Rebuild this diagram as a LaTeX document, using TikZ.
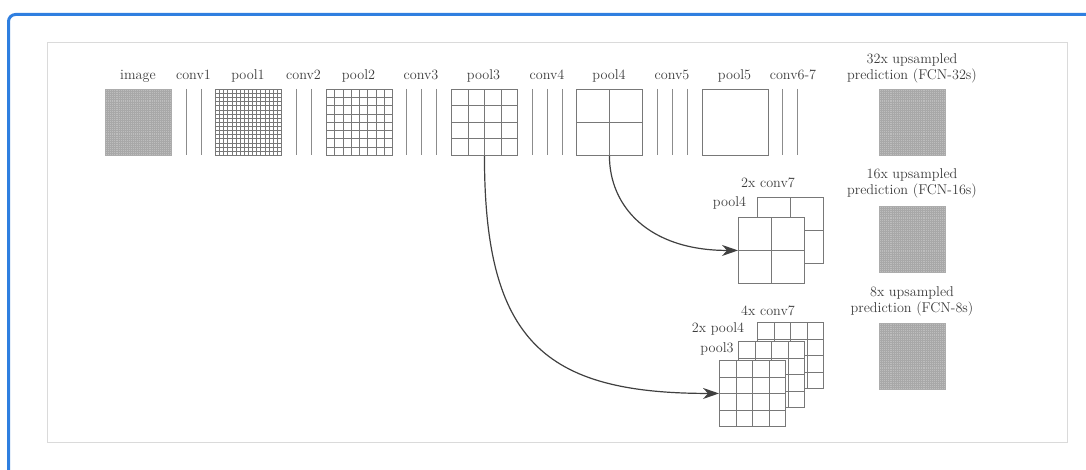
\documentclass[tikz,border=0pt]{standalone}
\usetikzlibrary{calc,arrows.meta}
\definecolor{blueb}{HTML}{2F7FE0}
\definecolor{frameg}{HTML}{DADADA}
\definecolor{boxg}{HTML}{787878}
\definecolor{txt}{HTML}{3C3C3C}
\definecolor{arr}{HTML}{404040}
\begin{document}
\begin{tikzpicture}[x=1pt,y=-1pt,
  lbl/.style={text=txt,font=\fontsize{14.2}{17}\selectfont,inner sep=0,anchor=base},
  gbox/.style={draw=boxg,line width=0.9,fill=white,minimum size=66,inner sep=0,anchor=north west},
  gridn/.style n args={3}{path picture={%
     \pgfmathtruncatemacro\nn{#1-1}%
     \foreach \i in {1,...,\nn}{%
       \draw[#2,line width=#3]
         ($(path picture bounding box.north west)!{\i/#1}!(path picture bounding box.north east)$) --
         ($(path picture bounding box.south west)!{\i/#1}!(path picture bounding box.south east)$);
       \draw[#2,line width=#3]
         ($(path picture bounding box.north west)!{\i/#1}!(path picture bounding box.south west)$) --
         ($(path picture bounding box.north east)!{\i/#1}!(path picture bounding box.south east)$);
     }}},
  fine/.style={gbox,fill=gray!52,draw=gray!65,gridn={32}{gray!68}{0.6}},
  coarse/.style={gbox,gridn={#1}{boxg}{0.9}},
  conv/.style={draw=boxg!85,line width=0.9},
  link/.style={draw=arr,line width=1.2,-{Stealth[length=16,width=11,inset=5]}}
]
\useasboundingbox (0,0) rectangle (1086,470);
\begin{scope}
  \clip (0,0) rectangle (1086,470);
  \draw[blueb,line width=3,rounded corners=7] (8.5,14.5) rectangle (1110,500);
\end{scope}
\draw[frameg,line width=1] (47,43) rectangle (1067,442);

% top row
\node[fine] (image) at (105,89) {};
\node[coarse=16] (pool1) at (215,89) {};
\node[coarse=8] (pool2) at (326,89) {};
\node[coarse=4] (pool3) at (451,89) {};
\node[coarse=2] (pool4) at (576,89) {};
\node[gbox] (pool5) at (702,89) {};
\node[fine] (out32) at (879,89) {};

\foreach \x in {186,201,296,311,406,421,436,532,547,562,657,672,687,782,797}
  \draw[conv] (\x,89) -- (\x,155);

\node[lbl] (limage) at (138,80) {image};
\node[lbl] (lconv1) at (193.5,80) {conv1};
\node[lbl] (lpool1) at (248,80) {pool1};
\node[lbl] (lconv2) at (303.5,80) {conv2};
\node[lbl] (lpool2) at (358.5,80) {pool2};
\node[lbl] (lconv3) at (421,80) {conv3};
\node[lbl] (lpool3) at (483.5,80) {pool3};
\node[lbl] (lconv4) at (547,80) {conv4};
\node[lbl] (lpool4) at (609,80) {pool4};
\node[lbl] (lconv5) at (672,80) {conv5};
\node[lbl] (lpool5) at (734.5,80) {pool5};
\node[lbl] (lconv67) at (793,80) {conv6-7};
\node[lbl] (l32a) at (912,64) {32x upsampled};
\node[lbl] (l32b) at (912,80) {prediction (FCN-32s)};

% middle row
\node[coarse=2] (c7a) at (757,197) {};
\node[coarse=2] (p4f) at (738,217) {};
\node[fine] (out16) at (879,206) {};
\node[lbl] (l2c7) at (768,188) {2x conv7};
\node[lbl] (lp4m) at (729.5,207) {pool4};
\node[lbl] (l16a) at (912,179) {16x upsampled};
\node[lbl] (l16b) at (912,195) {prediction (FCN-16s)};

% bottom row
\node[coarse=4] (c7b) at (757,322) {};
\node[coarse=4] (p4b) at (738,341) {};
\node[coarse=4] (p3f) at (719,360) {};
\node[fine] (out8) at (879,323) {};
\node[lbl] (l4c7) at (768,315) {4x conv7};
\node[lbl] (l2p4) at (718,332) {2x pool4};
\node[lbl] (lp3b) at (717,352) {pool3};
\node[lbl] (l8a) at (912,296) {8x upsampled};
\node[lbl] (l8b) at (912,312) {prediction (FCN-8s)};

% connectors
\draw[link] (pool4.south) .. controls +(0,50) and +(-90,0) .. (p4f.west);
\draw[link] (pool3.south) .. controls +(0,185) and +(-175,0) .. (p3f.west);
\end{tikzpicture}
\end{document}
